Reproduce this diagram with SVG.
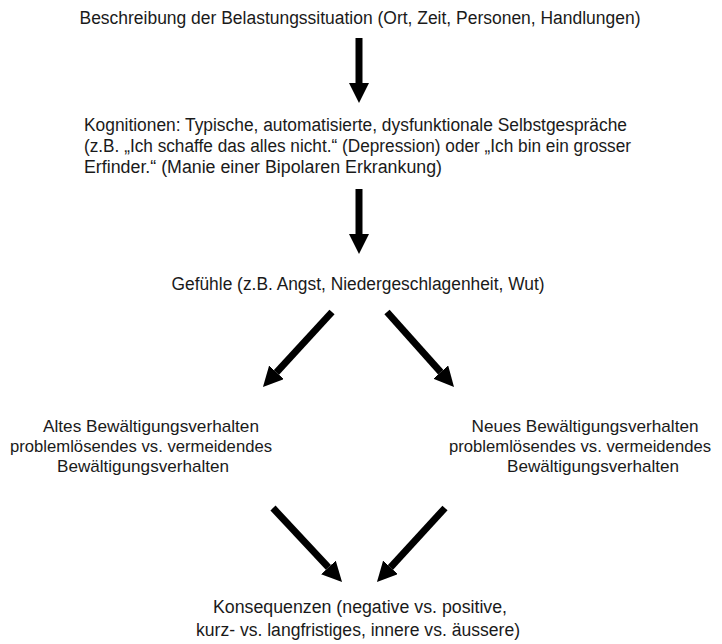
<svg xmlns="http://www.w3.org/2000/svg" width="722" height="644" viewBox="0 0 722 644">
  <style>
    .t { font-family: "Liberation Sans", Arial, sans-serif; font-size: 18px; fill: #1a1a1a; }
    .s { font-size: 17px; }
    .c { text-anchor: middle; }
    .shaft { stroke: #000; stroke-width: 7; fill: none; marker-end: url(#head); }
  </style>
  <defs>
    <marker id="head" viewBox="0 0 20 20" refX="0" refY="10" markerWidth="20" markerHeight="20" markerUnits="userSpaceOnUse" orient="auto">
      <path d="M0,0 L20,10 L0,20 Z" fill="#000"/>
    </marker>
  </defs>
  <rect width="722" height="644" fill="#fff"/>

  <g id="situation">
    <text class="t c" x="360" y="24" textLength="561" lengthAdjust="spacingAndGlyphs">Beschreibung der Belastungssituation (Ort, Zeit, Personen, Handlungen)</text>
  </g>

  <g id="kognitionen">
    <text class="t" x="84" y="131" textLength="543" lengthAdjust="spacingAndGlyphs">Kognitionen: Typische, automatisierte, dysfunktionale Selbstgespräche</text>
    <text class="t" x="84" y="152" textLength="547" lengthAdjust="spacingAndGlyphs">(z.B. „Ich schaffe das alles nicht.“ (Depression) oder „Ich bin ein grosser</text>
    <text class="t" x="84" y="173" textLength="358" lengthAdjust="spacingAndGlyphs">Erfinder.“ (Manie einer Bipolaren Erkrankung)</text>
  </g>

  <g id="gefuehle">
    <text class="t c" x="358" y="290" textLength="373" lengthAdjust="spacingAndGlyphs">Gefühle (z.B. Angst, Niedergeschlagenheit, Wut)</text>
  </g>

  <g id="altes">
    <text class="t s c" x="151" y="432" textLength="216" lengthAdjust="spacingAndGlyphs">Altes Bewältigungsverhalten</text>
    <text class="t s c" x="141" y="452" textLength="262" lengthAdjust="spacingAndGlyphs">problemlösendes vs. vermeidendes</text>
    <text class="t s c" x="143" y="472" textLength="172" lengthAdjust="spacingAndGlyphs">Bewältigungsverhalten</text>
  </g>

  <g id="neues">
    <text class="t s c" x="585" y="432" textLength="227" lengthAdjust="spacingAndGlyphs">Neues Bewältigungsverhalten</text>
    <text class="t s c" x="580" y="452" textLength="262" lengthAdjust="spacingAndGlyphs">problemlösendes vs. vermeidendes</text>
    <text class="t s c" x="593" y="472" textLength="172" lengthAdjust="spacingAndGlyphs">Bewältigungsverhalten</text>
  </g>

  <g id="konsequenzen">
    <text class="t c" x="360" y="613" textLength="294" lengthAdjust="spacingAndGlyphs">Konsequenzen (negative vs. positive,</text>
    <text class="t c" x="358" y="636" textLength="324" lengthAdjust="spacingAndGlyphs">kurz- vs. langfristiges, innere vs. äussere)</text>
  </g>

  <g id="connectors">
    <line class="shaft" x1="359" y1="38" x2="359" y2="83"/>
    <line class="shaft" x1="359" y1="189" x2="359" y2="234"/>
    <line class="shaft" x1="332" y1="312" x2="276.5" y2="372.3"/>
    <line class="shaft" x1="387" y1="312" x2="440.7" y2="372.1"/>
    <line class="shaft" x1="273" y1="508" x2="328.4" y2="567.4"/>
    <line class="shaft" x1="445" y1="508" x2="390.5" y2="567.3"/>
  </g>
</svg>
